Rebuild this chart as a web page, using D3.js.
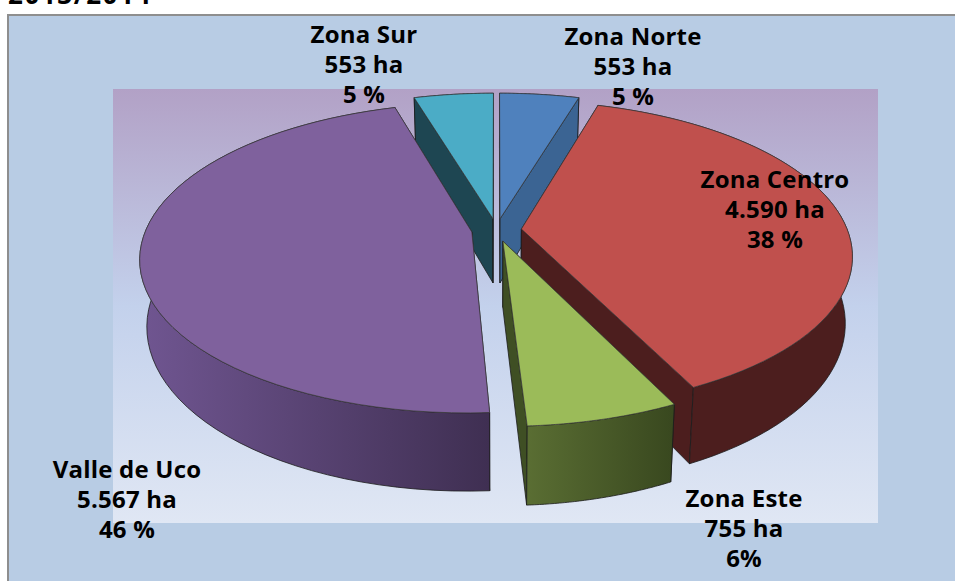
<!DOCTYPE html>
<html><head><meta charset="utf-8">
<script src="https://cdn.jsdelivr.net/npm/d3@7"></script>
<style>html,body{margin:0;padding:0;background:#fff;overflow:hidden}svg{display:block}
text{font-family:"Open Sans",sans-serif;font-weight:700;font-size:24px;letter-spacing:.2px;fill:#000;text-anchor:middle}
#title{font-size:26px;letter-spacing:1.6px}</style>
</head><body><svg id="c" width="955" height="581"></svg>
<script>
const titleText = "2013/2014";
const zones = ["Zona Norte","Zona Centro","Zona Este","Valle de Uco","Zona Sur"];
const hectares = [553,4590,755,5567,553];
const haLabels = ["553 ha","4.590 ha","755 ha","5.567 ha","553 ha"];
const pctLabels = ["5 %","38 %","6%","46 %","5 %"];
const topColors = ["#4f81bd","#c0504d","#9bbb59","#7f619d","#4bacc6"];
const wallColors = ["#3b6493","#4c1e1e","#3f4f24","#4a3860","#1e4652"];
const labelPos = [[633,45],[775,188],[744,507],[127,478],[364,43]];
const drawOrder = [4,0,1,3,2];

const svg = d3.select("#c");
const defs = svg.append("defs");
const bg = defs.append("linearGradient").attr("id","plotBg").attr("x1",0).attr("y1",0).attr("x2",0).attr("y2",1);
bg.append("stop").attr("offset",0).attr("stop-color","#b2a1c6");
bg.append("stop").attr("offset",0.5).attr("stop-color","#c3d1ec");
bg.append("stop").attr("offset",1).attr("stop-color","#e0e7f4");
function wallGrad(id,x1,x2,c1,c2){
  const g = defs.append("linearGradient").attr("id",id).attr("gradientUnits","userSpaceOnUse")
    .attr("x1",x1).attr("x2",x2).attr("y1",0).attr("y2",0);
  g.append("stop").attr("offset",0).attr("stop-color",c1);
  g.append("stop").attr("offset",1).attr("stop-color",c2);
}
wallGrad("wallPurple",146,490,"#6f5590","#3f2f52");
wallGrad("wallGreen",526,672,"#5a6e33","#39481f");

svg.append("text").attr("id","title").attr("x",80).attr("y",4).text(titleText);
svg.append("rect").attr("x",8).attr("y",15).attr("width",970).attr("height",590)
  .attr("fill","#b8cce4").attr("stroke","#8e8e8e").attr("stroke-width",2);
svg.append("rect").attr("x",113).attr("y",89).attr("width",765).attr("height",434).attr("fill","url(#plotBg)");

// Perspective view of the pie
const cx=496.5, cy=230, R=326, explode=25, height=65, tilt=0.46, persp=0.167, lowerShrink=0.98;
function proj(a,r,off,low){
  const X=r*Math.sin(a)+explode*Math.sin(off), Y=r*Math.cos(a)+explode*Math.cos(off);
  const s=1/(1+persp*Y/R);
  return [cx+X*s*(low?lowerShrink:1), cy-tilt*Y*s+(low?height*s:0)];
}
const pie = d3.pie().sort(null).startAngle(0).endAngle(2*Math.PI)(hectares);
const line = d3.line();
const g = svg.append("g");
drawOrder.forEach(i=>{
  const d=pie[i], off=(d.startAngle+d.endAngle)/2;
  const angles=d3.range(0,61).map(k=>d.startAngle+(d.endAngle-d.startAngle)*k/60);
  const arcTop=angles.map(a=>proj(a,R,off,false));
  const arcLow=angles.map(a=>proj(a,R,off,true));
  const tip=proj(0,0,off,false), tipLow=proj(0,0,off,true);
  const wall=c=>g.append("path").attr("fill",c).attr("stroke","#1c1c1c").attr("stroke-width",0.8).attr("stroke-linejoin","round");
  const fill = i===3?"url(#wallPurple)":i===2?"url(#wallGreen)":wallColors[i];
  const outer=()=>wall(fill).attr("d",line(arcTop.concat(arcLow.slice().reverse()))+"Z");
  const atBack=Math.cos(off)>0.5;
  if(atBack) outer();
  wall(wallColors[i]).attr("d",line([tip,tipLow,arcLow[0],arcTop[0]])+"Z");
  wall(wallColors[i]).attr("d",line([tip,tipLow,arcLow[60],arcTop[60]])+"Z");
  if(!atBack) outer();
  g.append("path").attr("fill",topColors[i]).attr("stroke","#3a3a3a").attr("stroke-width",0.7)
    .attr("stroke-linejoin","round").attr("d",line([tip].concat(arcTop))+"Z");
});

zones.forEach((z,i)=>{
  const [x,y]=labelPos[i];
  const t=svg.append("text").attr("x",x).attr("y",y);
  [z,haLabels[i],pctLabels[i]].forEach((s,k)=>t.append("tspan").attr("x",x).attr("y",y+k*30).text(s));
});
</script></body></html>
